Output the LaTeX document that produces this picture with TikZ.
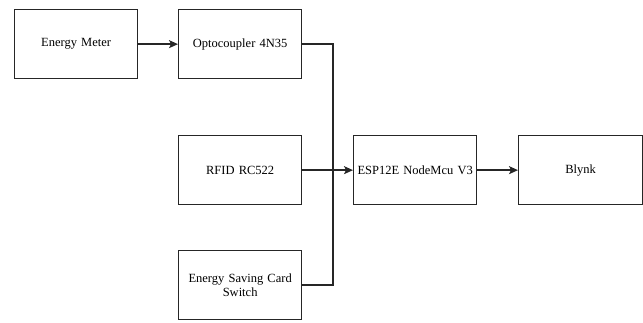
\documentclass[tikz,border=0pt]{standalone}
\usepackage{fontspec}
\setmainfont{Liberation Serif}
\usetikzlibrary{arrows.meta}
\begin{document}
\begin{tikzpicture}[x=1pt,y=-1pt,
  blk/.style={draw=black!85,line width=1.3pt,minimum width=123pt,minimum height=69pt,inner sep=2pt,align=center,font=\fontsize{12.5}{14.5}\selectfont,anchor=north west,text width=118pt},
  conn/.style={draw=black!85,line width=1.3pt},
  arr/.style={conn,-{Stealth[length=9pt,width=8pt,inset=2pt]}}]
\useasboundingbox (0,0) rectangle (643,323);
\node[blk] (em) at (14,9) {Energy Meter};
\node[blk] (oc) at (178,9) {Optocoupler 4N35};
\node[blk] (rf) at (178,135) {RFID RC522};
\node[blk] (cs) at (178,250) {Energy Saving Card\\Switch};
\node[blk] (esp) at (353,135) {ESP12E NodeMcu V3};
\node[blk,minimum width=124pt] (bl) at (518,135) {Blynk};
\coordinate (j) at (333,169.5);
\draw[arr] (em.east) -- (oc.west);
\draw[conn] (oc.east) -| (j);
\draw[conn] (cs.east) -| (j);
\draw[arr] (rf.east) -- (esp.west);
\draw[arr] (esp.east) -- (bl.west);
\end{tikzpicture}
\end{document}
